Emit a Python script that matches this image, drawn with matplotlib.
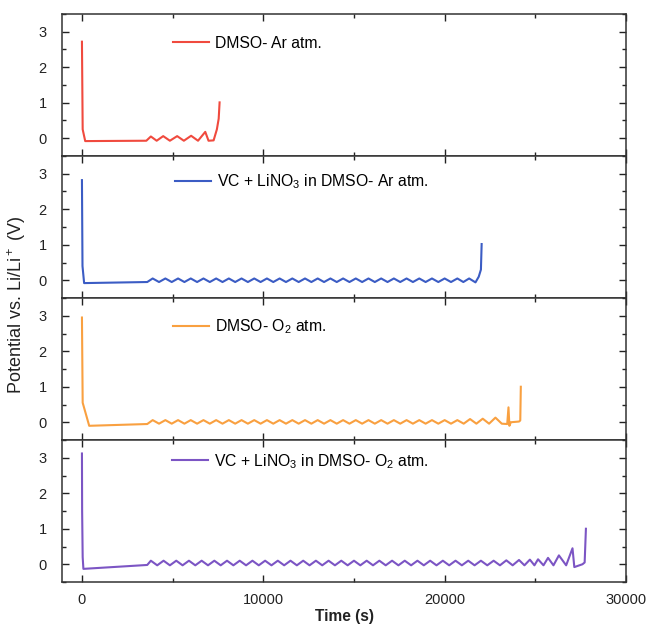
import numpy as np
import matplotlib
matplotlib.use("Agg")
import matplotlib.pyplot as plt
from matplotlib.ticker import MultipleLocator

plt.rcParams['font.family'] = ['Liberation Sans', 'DejaVu Sans']
plt.rcParams['mathtext.fontset'] = 'custom'
plt.rcParams['mathtext.rm'] = 'Liberation Sans'
plt.rcParams['mathtext.it'] = 'Liberation Sans:italic'
plt.rcParams['mathtext.bf'] = 'Liberation Sans:bold'

# ---------------- data ----------------
labels = ["DMSO- Ar atm.",
          "VC + LiNO$_3$ in DMSO- Ar atm.",
          "DMSO- O$_2$ atm.",
          "VC + LiNO$_3$ in DMSO- O$_2$ atm."]
colors = ["#F04A3E", "#3B5CC4", "#F9A040", "#7C55C4"]

# DMSO - Ar
red_head_t = [0, 40, 180, 3550]
red_head_v = [2.72, 0.25, -0.08, -0.07]
red_peak_t = [3800, 4480, 5250, 6020, 6800]
red_peak_v = [0.05, 0.06, 0.06, 0.07, 0.18]
red_trough_t = [4120, 4850, 5620, 6400]
red_trough_v = [-0.07, -0.07, -0.07, -0.07]
red_tail_t = [6980, 7260, 7440, 7540, 7590]
red_tail_v = [-0.07, -0.06, 0.25, 0.55, 1.01]

# VC + LiNO3 in DMSO - Ar
blue_head_t = [0, 30, 120, 3600]
blue_head_v = [2.82, 0.4, -0.08, -0.05]
blue_peak_t = [3900, 4600, 5300, 6000, 6700, 7400, 8100, 8800, 9500, 10200,
               10900, 11600, 12300, 13000, 13700, 14400, 15100, 15800, 16500,
               17200, 17900, 18600, 19300, 20000, 20700, 21350]
blue_peak_v = 0.05
blue_trough_t = [4250, 4950, 5650, 6350, 7050, 7750, 8450, 9150, 9850, 10550,
                 11250, 11950, 12650, 13350, 14050, 14750, 15450, 16150, 16850,
                 17550, 18250, 18950, 19650, 20350, 21030]
blue_trough_v = -0.05
blue_tail_t = [21700, 21880, 22000, 22040]
blue_tail_v = [-0.06, 0.10, 0.30, 1.02]

# DMSO - O2
orange_head_t = [0, 40, 400, 3600]
orange_head_v = [2.95, 0.55, -0.10, -0.05]
orange_peak_t = [3900, 4600, 5300, 6000, 6700, 7400, 8100, 8800, 9500, 10200,
                 10900, 11600, 12300, 13000, 13700, 14400, 15100, 15800, 16500,
                 17200, 17900, 18600, 19300, 20000, 20700, 21400, 22100, 22800]
orange_peak_v = [0.06] * 25 + [0.09, 0.10, 0.13]
orange_trough_t = [4250, 4950, 5650, 6350, 7050, 7750, 8450, 9150, 9850, 10550,
                   11250, 11950, 12650, 13350, 14050, 14750, 15450, 16150, 16850,
                   17550, 18250, 18950, 19650, 20350, 21050, 21750, 22450, 23150]
orange_trough_v = -0.04
orange_tail_t = [23450, 23520, 23570, 23650, 24100, 24170, 24200]
orange_tail_v = [-0.05, 0.42, -0.10, 0.00, 0.02, 0.05, 1.00]

# VC + LiNO3 in DMSO - O2
purple_head_t = [0, 10, 40, 80, 3600]
purple_head_v = [3.12, 1.5, 0.2, -0.13, -0.02]
purple_peak_t = [3800, 4500, 5200, 5900, 6600, 7300, 8000, 8700, 9400, 10100,
                 10800, 11500, 12200, 12900, 13600, 14300, 15000, 15700, 16400,
                 17100, 17800, 18500, 19200, 19900, 20600, 21300, 22000, 22700,
                 23400, 24100, 24700, 25150, 25700, 26300, 27050]
purple_peak_v = [0.10] * 28 + [0.11, 0.12, 0.13, 0.14, 0.18, 0.25, 0.45]
purple_trough_t = [4150, 4850, 5550, 6250, 6950, 7650, 8350, 9050, 9750, 10450,
                   11150, 11850, 12550, 13250, 13950, 14650, 15350, 16050, 16750,
                   17450, 18150, 18850, 19550, 20250, 20950, 21650, 22350, 23050,
                   23750, 24400, 24950, 25450, 26000, 26700]
purple_trough_v = -0.03
purple_tail_t = [27150, 27600, 27720, 27790]
purple_tail_v = [-0.08, 0.00, 0.05, 1.00]

series = [
    (red_head_t, red_head_v, red_peak_t, red_peak_v, red_trough_t, red_trough_v, red_tail_t, red_tail_v),
    (blue_head_t, blue_head_v, blue_peak_t, blue_peak_v, blue_trough_t, blue_trough_v, blue_tail_t, blue_tail_v),
    (orange_head_t, orange_head_v, orange_peak_t, orange_peak_v, orange_trough_t, orange_trough_v, orange_tail_t, orange_tail_v),
    (purple_head_t, purple_head_v, purple_peak_t, purple_peak_v, purple_trough_t, purple_trough_v, purple_tail_t, purple_tail_v),
]

x_ticks = [0, 10000, 20000, 30000]
y_ticks = [0, 1, 2, 3]


def build(head_t, head_v, pk_t, pk_v, tr_t, tr_v, tail_t, tail_v):
    pk_t = np.asarray(pk_t, float)
    tr_t = np.asarray(tr_t, float)
    pk_v = np.broadcast_to(np.asarray(pk_v, float), pk_t.shape)
    tr_v = np.broadcast_to(np.asarray(tr_v, float), tr_t.shape)
    mid_t = np.concatenate([pk_t, tr_t])
    mid_v = np.concatenate([pk_v, tr_v])
    order = np.argsort(mid_t)
    t = np.concatenate([head_t, mid_t[order], tail_t])
    v = np.concatenate([head_v, mid_v[order], tail_v])
    return t, v


fig = plt.figure(figsize=(6.47, 6.26), dpi=100)
left, right = 62 / 647, 626 / 647
top, bottom = 1 - 14 / 626, 1 - 582 / 626
fig.subplots_adjust(left=left, right=right, top=top, bottom=bottom, hspace=0)
axes = fig.subplots(4, 1, sharex=True)

leg_pos = [(0.197, 0.795), (0.200, 0.82), (0.197, 0.80), (0.195, 0.85)]

for i, ax in enumerate(axes):
    t, v = build(*series[i])
    ax.plot(t, v, color=colors[i], lw=1.5, label=labels[i], solid_joinstyle='round')
    ax.set_xlim(-1100, 30000)
    ax.set_ylim(-0.5, 3.5)
    ax.set_yticks(y_ticks)
    ax.set_xticks(x_ticks)
    ax.xaxis.set_minor_locator(MultipleLocator(5000))
    ax.yaxis.set_minor_locator(MultipleLocator(0.5))
    ax.tick_params(which='both', direction='in', top=True, right=True,
                   colors='#222222', labelsize=10.5, width=1.0)
    ax.tick_params(which='major', length=5)
    ax.tick_params(which='minor', length=3)
    ax.tick_params(axis='y', pad=11)
    ax.tick_params(axis='x', pad=8)
    for s in ax.spines.values():
        s.set_linewidth(1.1)
        s.set_color('#333333')
    if i < 3:
        ax.tick_params(axis='x', labelbottom=False)
    ax.legend(loc='center left', bbox_to_anchor=leg_pos[i], frameon=False,
              fontsize=11.3, handlelength=2.3, handletextpad=0.4,
              borderpad=0, borderaxespad=0)

fig.text(0.026, 0.513, "Potential vs. Li/Li$^+$ (V)", rotation=90,
         ha='center', va='center', fontsize=13, color='#222222')
fig.text(0.533, 0.003, "Time (s)", ha='center', va='bottom', fontsize=11.2,
         fontweight='bold', color='#222222')

fig.savefig("out.png", dpi=100)
